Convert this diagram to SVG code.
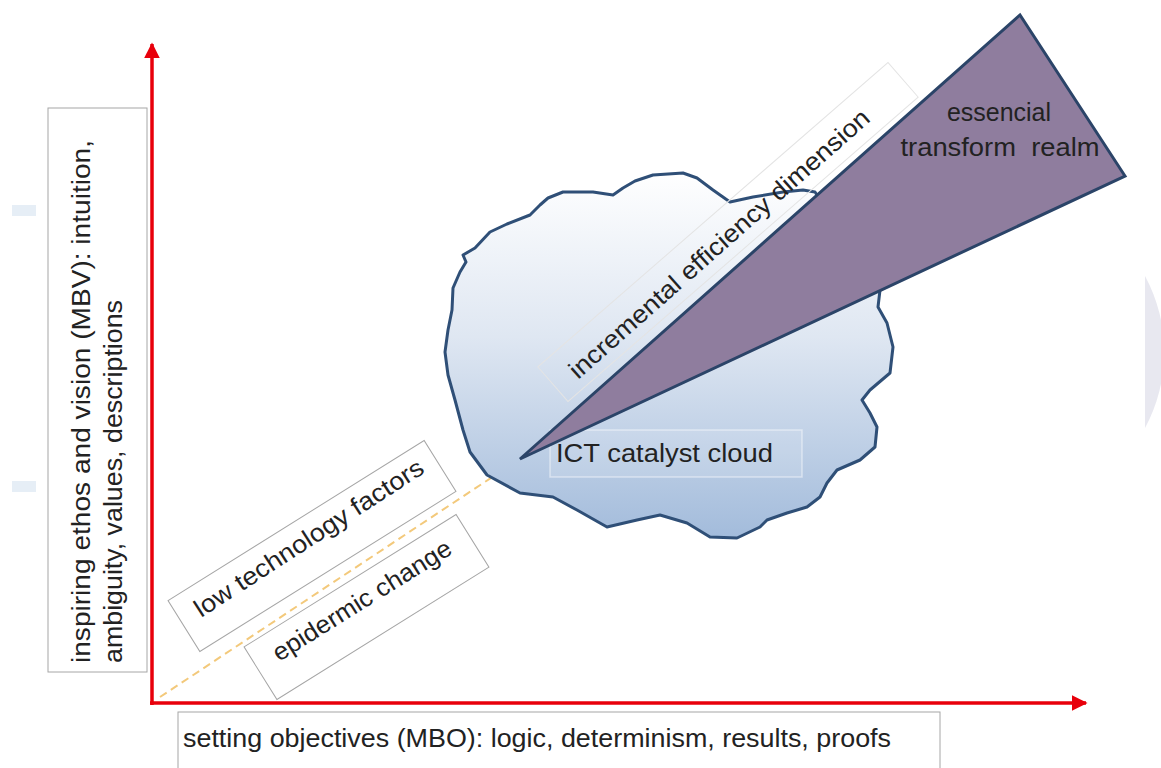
<svg xmlns="http://www.w3.org/2000/svg" width="1161" height="768" viewBox="0 0 1161 768">
<defs>
<linearGradient id="cloudGrad" x1="0" y1="170" x2="0" y2="540" gradientUnits="userSpaceOnUse">
<stop offset="0" stop-color="#ffffff"/>
<stop offset="0.45" stop-color="#dfe7f2"/>
<stop offset="1" stop-color="#a2bbdb"/>
</linearGradient>
<marker id="redHead" viewBox="0 0 10 10" refX="9" refY="5" markerWidth="4.5" markerHeight="4.5" markerUnits="strokeWidth" orient="auto">
<path d="M0,0 L10,5 L0,10 Z" fill="#e8000b"/>
</marker>
</defs>
<style>
.lbl{font-family:"Liberation Sans",Arial,sans-serif;font-size:25px;fill:#222222}
.box{fill:#ffffff;stroke:#a6a6a6;stroke-width:1}
.axis{stroke:#e8000b;stroke-width:3.5;fill:none}
</style>
<rect width="1161" height="768" fill="#ffffff"/>
<g id="decor">
<rect x="12" y="205" width="24" height="11" fill="#e6eef6"/>
<rect x="12" y="481" width="24" height="11" fill="#e6eef6"/>
<path d="M1145,276 A 160 160 0 0 1 1145,428 Z" fill="#e8e8f0"/>
</g>
<g id="connectors">
<line x1="160" y1="697" x2="518" y2="460" stroke="#f3c97b" stroke-width="2" stroke-dasharray="8 5"/>
<line class="axis" x1="152" y1="705" x2="152" y2="44" marker-end="url(#redHead)"/>
<line class="axis" x1="150" y1="703" x2="1086" y2="703" marker-end="url(#redHead)"/>
</g>
<g id="node-mbv">
<rect class="box" x="48" y="108" width="99" height="564"/>
<text class="lbl" transform="translate(90,663) rotate(-90)" textLength="523" lengthAdjust="spacingAndGlyphs">inspiring ethos and vision (MBV): intuition,</text>
<text class="lbl" transform="translate(122,663) rotate(-90)" textLength="363" lengthAdjust="spacingAndGlyphs">ambiguity, values, descriptions</text>
</g>
<g id="node-mbo">
<rect class="box" x="178" y="712" width="762" height="70"/>
<text class="lbl" x="183" y="747" textLength="708" lengthAdjust="spacingAndGlyphs">setting objectives (MBO): logic, determinism, results, proofs</text>
</g>
<g id="node-lowtech">
<g transform="translate(312,546) rotate(-32)">
<rect class="box" x="-151" y="-30" width="302" height="60"/>
</g>
<text class="lbl" transform="translate(201,618) rotate(-33)" textLength="268" lengthAdjust="spacingAndGlyphs">low technology factors</text>
</g>
<g id="node-epidermic">
<g transform="translate(366.5,607) rotate(-32)">
<rect class="box" x="-125" y="-31" width="250" height="62"/>
</g>
<text class="lbl" transform="translate(279,662) rotate(-32)" textLength="206" lengthAdjust="spacingAndGlyphs">epidermic change</text>
</g>
<g id="node-cloud">
<path d="M470,452 L463,430 L455,400 L448,375 L445,352 L448,330 L452,310 L453,288 L460,272 L466,262 L463,255 L475,248 L490,232 L507,224 L530,215 L540,205 L548,198 L563,192 L593,192 L613,195 L623,188 L635,181 L653,175 L683,173 L697,178 L713,190 L730,202 L753,197 L783,192 L803,190 L815,192 L880,290 L878,307 L887,323 L893,347 L890,373 L870,390 L862,400 L870,413 L877,427 L875,447 L860,460 L837,470 L827,483 L820,497 L807,507 L787,513 L767,520 L760,527 L737,538 L710,537 L687,523 L660,515 L637,520 L607,527 L577,510 L553,497 L520,493 L487,475 Z" fill="url(#cloudGrad)" stroke="#2f4f77" stroke-width="3" stroke-linejoin="round"/>
<rect x="550" y="430" width="252" height="47" fill="#ffffff" fill-opacity="0.12" stroke="#ffffff" stroke-opacity="0.45" stroke-width="1.5"/>
<text class="lbl" x="556" y="462" textLength="217" lengthAdjust="spacingAndGlyphs">ICT catalyst cloud</text>
</g>
<g id="node-incremental">
<g transform="translate(728,232) rotate(-41)">
<rect x="-232" y="-23" width="464" height="46" fill="none" stroke="#e4e4e4" stroke-width="1"/>
</g>
</g>
<g id="node-wedge">
<path d="M520,459 L1020,15 L1125,176 Z" fill="#8f7d9e" stroke="#2b4468" stroke-width="3" stroke-linejoin="miter"/>
<text class="lbl" x="999" y="121" text-anchor="middle" textLength="104" lengthAdjust="spacingAndGlyphs">essencial</text>
<text class="lbl" x="1000" y="156" text-anchor="middle" xml:space="preserve" textLength="199" lengthAdjust="spacingAndGlyphs">transform  realm</text>
</g>
<g id="label-incremental">
<text class="lbl" transform="translate(578,380) rotate(-41.5)" textLength="392" lengthAdjust="spacingAndGlyphs">incremental efficiency dimension</text>
</g>
</svg>
